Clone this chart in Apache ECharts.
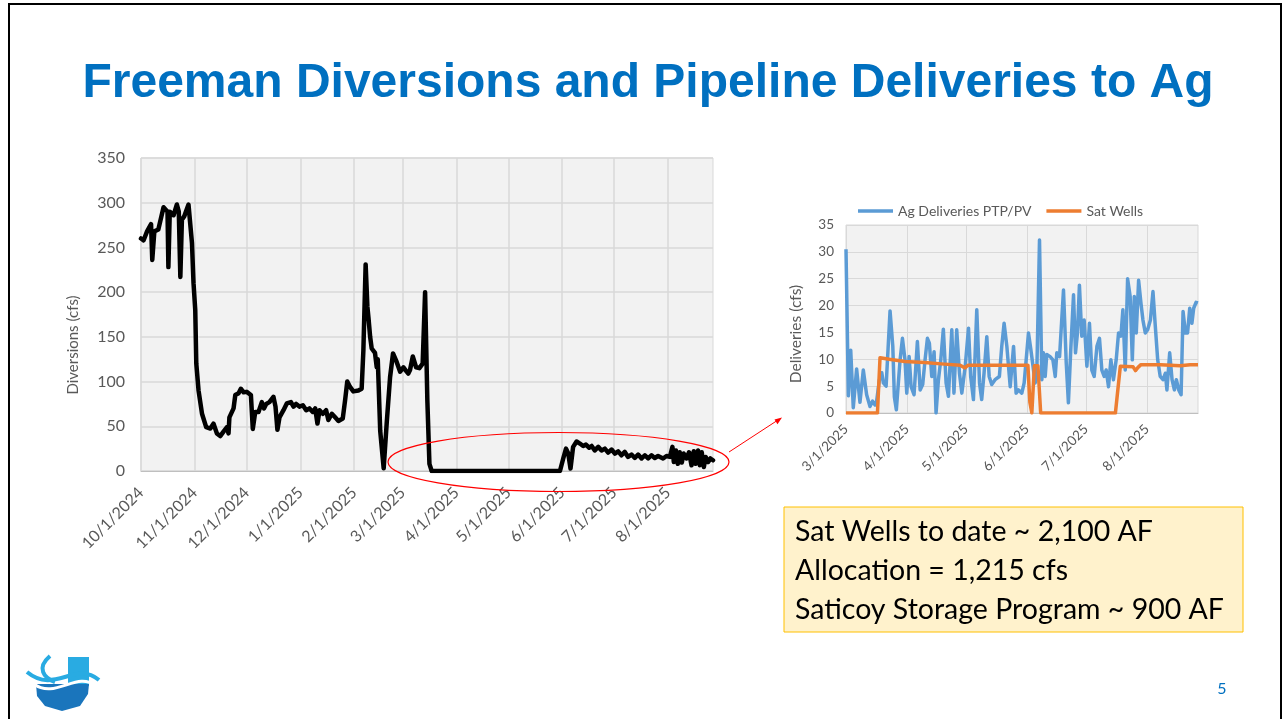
<!DOCTYPE html>
<html>
<head>
<meta charset="utf-8">
<script src="https://cdn.jsdelivr.net/npm/echarts@6/dist/echarts.min.js"></script>
<style>
  html, body { margin: 0; padding: 0; background: #fff; }
  #chart { width: 1288px; height: 719px; }
</style>
</head>
<body>
<div id="chart"></div>
<script>
// Main chart: days since 10/1/2024 vs Freeman diversions (cfs)
const mainTickDays = [0, 31, 61, 92, 123, 151, 182, 212, 243, 273, 304];
const mainTickLabels = ['10/1/2024', '11/1/2024', '12/1/2024', '1/1/2025', '2/1/2025', '3/1/2025',
  '4/1/2025', '5/1/2025', '6/1/2025', '7/1/2025', '8/1/2025'];
const mainDays = [0, 1.5, 3.5, 5.8, 6.5, 7.7, 10, 13, 15.3, 15.8, 16.6, 18.8, 20.7, 21.8, 22.7, 23.6, 25,
  27.4, 28.4, 29.4, 30.3, 31.3, 31.9, 33.2, 35.2, 37.6, 40, 41.8, 43.8, 45.7, 47.6, 49.6, 50.5, 51, 53.4,
  54.4, 56.3, 57.6, 59.2, 61, 63.4, 64.5, 65.9, 67.8, 69.7, 71, 72.2, 74.1, 76.4, 77.6, 78.7, 79.9, 82.2,
  84.1, 86.5, 88, 89.5, 91.4, 93.4, 95.3, 97.2, 99.1, 100.5, 101.8, 103, 104.9, 106.8, 108.1, 110.1, 112,
  113.9, 116.4, 117.8, 119, 120.6, 122.5, 125.4, 127.3, 128.3, 129.6, 130.6, 131.2, 132.2, 133.1, 135,
  136, 136.6, 138, 140, 141.8, 143.7, 145.4, 147.5, 149.5, 151.4, 152.9, 154.2, 155.2, 156.8, 158.7,
  160.6, 162.5, 163.9, 165.2, 166.4, 167.7, 241.7, 243.6, 245.2, 246.5, 247.8, 249.3, 251.3, 253.2,
  255.1, 256.7, 258.6, 260, 261.8, 263.8, 265.7, 267.6, 269.5, 271.5, 273.4, 275.3, 277.2, 279.1, 281,
  283, 284.9, 286.8, 288.8, 290.7, 292.6, 294.5, 296.4, 298.3, 301.2, 303.2, 305.1, 306.6, 307.4, 308.6,
  309.7, 310.8, 312, 313.1, 314.7, 316.2, 317.6, 318.9, 320, 321.4, 322.4, 323.5, 324.7, 325.8, 327.2,
  328.5, 330];
const mainFlow = [260, 258, 268, 276, 236, 268, 270, 295, 290, 228, 290, 286, 298, 290, 217, 281, 285,
  298, 296, 255, 210, 180, 120, 90, 64, 49, 47.5, 53, 42, 39, 44, 49, 42, 60, 70,
  85, 87, 92, 88, 88.5, 85, 47, 66, 66, 77, 70, 75, 77, 83, 72, 46, 60, 68,
  75.5, 77, 72, 75, 72, 73.5, 68, 70, 66, 70, 53, 68, 64, 68, 57, 64, 60,
  56, 58.7, 80, 100, 94, 89, 90, 92, 135, 231, 184, 172, 150, 137, 132,
  116, 125, 45, 3, 55, 105, 131.5, 122, 111, 116, 112, 109, 113, 128, 116,
  115, 120, 200, 79, 8, 0, 0, 14, 25, 19.5, 2.7, 27, 33, 30.7,
  28, 29.5, 26, 28, 23, 27, 23, 25, 20.6, 24, 19.5, 22, 17.6, 21.3, 15.7,
  18.4, 14.6, 18.4, 14, 17.6, 14, 17.6, 14.6, 16.8, 14, 16.8, 15.7, 27, 10, 23,
  8, 21, 9.4, 19.5, 14, 21, 6.4, 22, 8, 23, 6.4, 21, 4.5, 15.7, 10,
  14, 12];

// Inset chart: days since 3/1/2025
const insetTickDays = [0, 31, 61, 92, 122, 153];
const insetTickLabels = ['3/1/2025', '4/1/2025', '5/1/2025', '6/1/2025', '7/1/2025', '8/1/2025'];
const agDays = [0, 1.2, 2.4, 3.7, 5.4, 7.1, 8.8, 10.5, 12.2, 13.5, 14.8, 15.6, 17, 18.2, 19, 20.4, 22.4,
  23.8, 24.6, 25.6, 27.5, 28.7, 30, 30.9, 32.1, 33.1, 34.6, 36.3, 37.7, 39, 40.2, 41.4, 42.4, 43.6, 44.8,
  45.8, 47, 48.2, 49.5, 50.9, 52.1, 53.8, 54.9, 56.3, 57.7, 58.9, 60.6, 62.3, 63.4, 64.8, 66.5, 67.9, 69,
  70.2, 71.6, 72.8, 74.1, 75.8, 78, 79.2, 80.4, 81.8, 83.5, 85.2, 86.5, 87.7, 89.4, 90.6, 92.8, 94, 95,
  96.2, 97, 98.4, 99.6, 100.4, 101.3, 102.1, 103.8, 105.2, 106.4, 107.2, 108.6, 110.6, 112, 113.1, 114.3,
  115.7, 116.7, 117.7, 118.7, 119.9, 121.1, 122.5, 123.8, 125, 126.2, 127.6, 128.9, 130.1, 131.3, 132.3,
  133.5, 134.7, 136, 137.4, 138.6, 139.8, 140.8, 142, 143.2, 144.5, 145.6, 146.6, 147.6, 148.8, 150,
  151, 152.2, 153.4, 154.8, 156.1, 157.3, 158.5, 159.8, 161.2, 162.4, 163.2, 164.6, 165.8, 167, 168,
  169.2, 170.4, 171.4, 172.6, 173.7, 174.8, 175.9, 176.8, 178, 179];
const agFlow = [30.5, 3.2, 11.7, 1, 8.2, 2, 8, 3.4, 1.2, 2.2, 1.5, 2.3, 6.2, 7.5, 5.6, 5, 19,
  12.4, 3, 0.6, 9.9, 13.9, 9.9, 3.7, 10.5, 4.9, 3.4, 13.3, 4.3, 5.3, 9.9, 13.9, 13, 6.8, 11.4,
  0, 6.2, 9.9, 15.6, 5.6, 3.1, 15.5, 3.7, 15.5, 7.4, 3.7, 8.6, 15.8, 6.8, 2.5, 19.2, 5.6, 2.5,
  7.4, 14.2, 6.8, 5.3, 6.2, 6.8, 12.4, 16.7, 12.4, 4.9, 12.4, 3.7, 4.3, 3.7, 5.6, 14.9, 11.8, 11.5,
  5.6, 6.8, 32.2, 6.2, 11.2, 6.8, 10.9, 10.5, 9.9, 6.8, 11.2, 10.5, 22.9, 9.3, 1.9, 11.8,
  22, 11.2, 14.9, 23.8, 14.3, 17.3, 8.7, 16.7, 8, 6.8, 12.4, 13.9, 8, 6.8, 8,
  4.9, 9.9, 6.2, 9.9, 14.9, 14.3, 19.2, 8, 25, 21.7, 9.9, 21.7, 14.9, 24.7, 20.4,
  17.3, 14.9, 15.5, 17.3, 22.6, 16.1, 9.9, 6.8, 6.2, 7.4, 4.3, 11.2, 6.2, 4.3, 6.2,
  4.3, 3.4, 18.9, 14.9, 14.9, 19.5, 16.7, 19.5, 20.6, 20.5];
const satDays = [0, 16, 17.3, 22, 30, 40, 50, 58, 60.5, 62, 80, 92.5, 93.5, 94.5, 95.8, 97.6, 99, 137,
  139.5, 146, 147.2, 148.5, 150, 160, 170, 175, 179];
const satFlow = [0, 0, 10.3, 10, 9.6, 9.4, 9.1, 8.9, 8.4, 8.9, 8.9, 8.9, 2, 0, 8.8, 8.8, 0, 0,
  8.7, 8.6, 7.9, 8.5, 9, 9, 8.8, 9, 9];

const zip = (xs, ys) => xs.map((x, i) => [x, ys[i]]);
const labelOf = (ticks, labels) => v => {
  const i = ticks.indexOf(v);
  return i >= 0 ? labels[i] : '';
};

const FONT = 'Lato, "Liberation Sans", sans-serif';
const GREY = '#595959';

const chart = echarts.init(document.getElementById('chart'));

chart.setOption({
  animation: false,
  legend: {
    data: ['Ag Deliveries PTP/PV', 'Sat Wells'],
    left: 853,
    top: 199,
    icon: 'rect',
    itemWidth: 35,
    itemHeight: 3.5,
    itemGap: 15,
    textStyle: { fontFamily: FONT, fontSize: 14, color: GREY }
  },
  grid: [
    { left: 141, top: 158, width: 572, height: 313, show: true,
      backgroundColor: '#f2f2f2', borderColor: '#d9d9d9', borderWidth: 1 },
    { left: 846, top: 225, width: 352, height: 188, show: true,
      backgroundColor: '#f2f2f2', borderColor: '#d9d9d9', borderWidth: 1 }
  ],
  xAxis: [
    {
      gridIndex: 0, type: 'value', min: 0, max: 330,
      axisLine: { show: true, lineStyle: { color: '#bfbfbf' } },
      axisTick: { show: false, customValues: mainTickDays },
      splitLine: { show: true, lineStyle: { color: '#d9d9d9', width: 1.5 } },
      axisLabel: {
        customValues: mainTickDays, rotate: 45, margin: 19,
        fontFamily: FONT, fontSize: 16, color: GREY,
        formatter: labelOf(mainTickDays, mainTickLabels)
      }
    },
    {
      gridIndex: 1, type: 'value', min: 0, max: 179,
      axisLine: { show: true, lineStyle: { color: '#bfbfbf' } },
      axisTick: { show: false, customValues: insetTickDays },
      splitLine: { show: true, lineStyle: { color: '#d9d9d9', width: 1 } },
      axisLabel: {
        customValues: insetTickDays, rotate: 45, margin: 14,
        fontFamily: FONT, fontSize: 13.5, color: GREY,
        formatter: labelOf(insetTickDays, insetTickLabels)
      }
    }
  ],
  yAxis: [
    {
      gridIndex: 0, type: 'value', min: 0, max: 350, interval: 50,
      axisLine: { show: false }, axisTick: { show: false },
      splitLine: { lineStyle: { color: '#d9d9d9', width: 1.5 } },
      axisLabel: { fontFamily: FONT, fontSize: 16, color: GREY, margin: 16 }
    },
    {
      gridIndex: 1, type: 'value', min: 0, max: 35, interval: 5,
      axisLine: { show: false }, axisTick: { show: false },
      splitLine: { lineStyle: { color: '#d9d9d9', width: 1 } },
      axisLabel: { fontFamily: FONT, fontSize: 13.5, color: GREY, margin: 12 }
    }
  ],
  series: [
    {
      name: 'Freeman Diversions', type: 'line', xAxisIndex: 0, yAxisIndex: 0,
      data: zip(mainDays, mainFlow), showSymbol: false,
      lineStyle: { color: '#000', width: 4.5, join: 'round', cap: 'round' }
    },
    {
      name: 'Ag Deliveries PTP/PV', type: 'line', xAxisIndex: 1, yAxisIndex: 1,
      data: zip(agDays, agFlow), showSymbol: false, itemStyle: { color: '#5b9bd5' },
      lineStyle: { color: '#5b9bd5', width: 3.5, join: 'round' }
    },
    {
      name: 'Sat Wells', type: 'line', xAxisIndex: 1, yAxisIndex: 1,
      data: zip(satDays, satFlow), showSymbol: false, itemStyle: { color: '#ed7d31' },
      lineStyle: { color: '#ed7d31', width: 3.5, join: 'round' }
    }
  ],
  graphic: [
    // slide frame
    { type: 'rect', shape: { x: 9, y: 4, width: 1272, height: 740 }, silent: true,
      style: { fill: null, stroke: '#000', lineWidth: 2 } },
    { type: 'text', x: 648, y: 84, silent: true,
      style: { text: 'Freeman Diversions and Pipeline Deliveries to Ag', fill: '#0070c0',
        font: 'bold 48px "Liberation Sans", Arial, sans-serif', textAlign: 'center', textVerticalAlign: 'middle' } },
    // axis titles
    { type: 'text', x: 73, y: 345, rotation: Math.PI / 2, silent: true,
      style: { text: 'Diversions (cfs)', fill: GREY, font: '15px ' + FONT, textAlign: 'center', textVerticalAlign: 'middle' } },
    { type: 'text', x: 796, y: 334, rotation: Math.PI / 2, silent: true,
      style: { text: 'Deliveries (cfs)', fill: GREY, font: '15.5px ' + FONT, textAlign: 'center', textVerticalAlign: 'middle' } },
    // highlight ellipse and arrow
    { type: 'ellipse', shape: { cx: 558.5, cy: 462, rx: 170.5, ry: 29.5 }, silent: true, z: 100,
      style: { fill: null, stroke: '#ff0000', lineWidth: 1.2 } },
    { type: 'line', shape: { x1: 729, y1: 452, x2: 778, y2: 420 }, silent: true, z: 100,
      style: { stroke: '#ff0000', lineWidth: 1 } },
    { type: 'polygon', shape: { points: [[782, 417.5], [774.5, 419.5], [777.5, 424.2]] }, silent: true, z: 100,
      style: { fill: '#ff0000' } },
    // note box
    { type: 'rect', shape: { x: 784, y: 507, width: 459, height: 125 }, silent: true,
      style: { fill: '#fff2cc', stroke: '#ffc000', lineWidth: 1 } },
    { type: 'text', x: 795, y: 532, silent: true,
      style: { text: 'Sat Wells to date ~ 2,100 AF', fill: '#000', font: '28.5px Lato, sans-serif', textVerticalAlign: 'middle' } },
    { type: 'text', x: 795, y: 571, silent: true,
      style: { text: 'Allocation = 1,215 cfs', fill: '#000', font: '28.5px Lato, sans-serif', textVerticalAlign: 'middle' } },
    { type: 'text', x: 795, y: 610, silent: true,
      style: { text: 'Saticoy Storage Program ~ 900 AF', fill: '#000', font: '28.5px Lato, sans-serif', textVerticalAlign: 'middle' } },
    // page number
    { type: 'text', x: 1222, y: 689, silent: true,
      style: { text: '5', fill: '#0070c0', font: '16px Lato, sans-serif', textAlign: 'center', textVerticalAlign: 'middle' } },
    // logo
    { type: 'rect', shape: { x: 68, y: 657, width: 21, height: 29 }, silent: true,
      style: { fill: '#29abe2' } },
    { type: 'polygon', shape: { points: [[36, 684], [89, 684], [88, 694], [80, 706], [62, 711], [45, 706], [37, 696]] }, silent: true,
      style: { fill: '#1a75bc' } },
    { type: 'bezierCurve', shape: { x1: 27, y1: 672, x2: 99, y2: 680, cpx1: 55, cpy1: 695, cpx2: 75, cpy2: 660 }, silent: true,
      style: { stroke: '#29abe2', lineWidth: 4, fill: null } },
    { type: 'bezierCurve', shape: { x1: 34, y1: 684, x2: 95, y2: 686, cpx1: 55, cpy1: 700, cpx2: 78, cpy2: 670 }, silent: true,
      style: { stroke: '#ffffff', lineWidth: 3, fill: null } },
    { type: 'bezierCurve', shape: { x1: 50, y1: 656, x2: 55, y2: 682, cpx1: 36, cpy1: 668, cpx2: 44, cpy2: 678 }, silent: true,
      style: { stroke: '#29abe2', lineWidth: 4, fill: null } }
  ]
});
</script>
</body>
</html>
